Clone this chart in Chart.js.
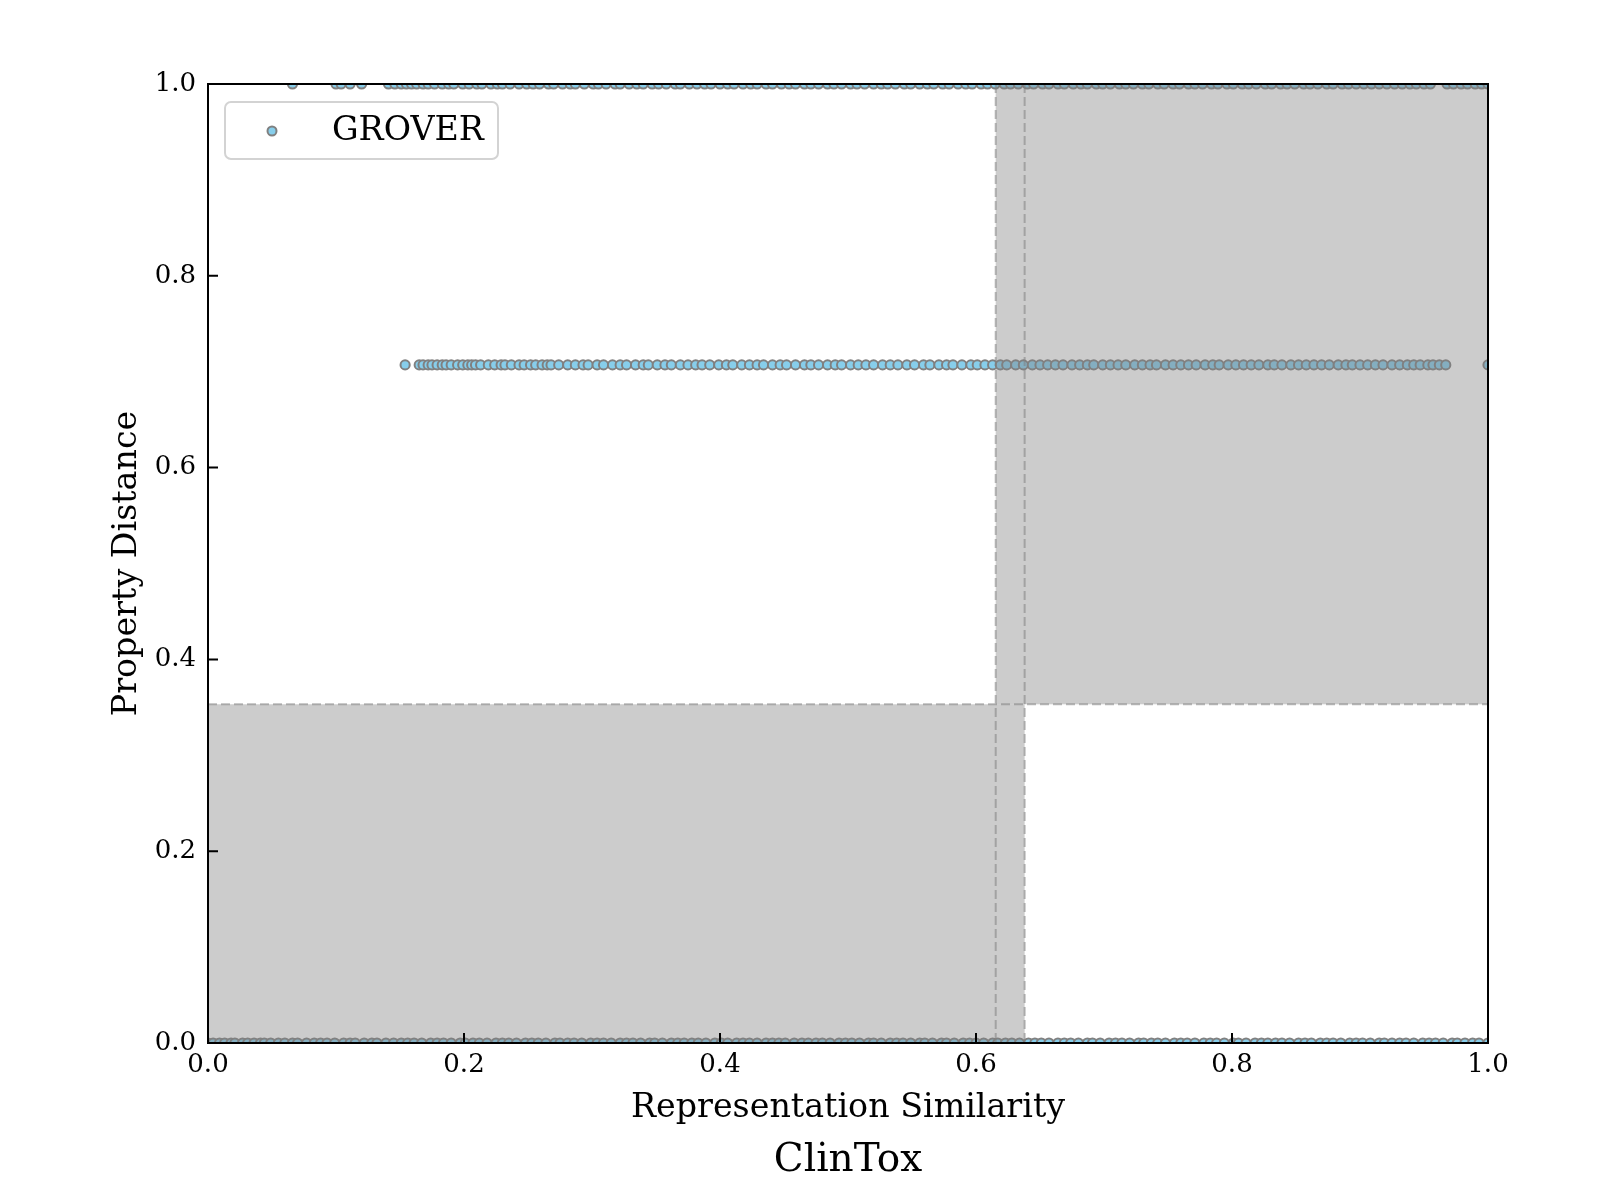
<!DOCTYPE html>
<html>
<head>
<meta charset="utf-8">
<script src="https://cdn.jsdelivr.net/npm/chart.js@4.4.1/dist/chart.umd.min.js"></script>
<style>
  html, body { margin: 0; padding: 0; background: #ffffff; }
  #wrap { width: 1600px; height: 1200px; position: relative; }
</style>
</head>
<body>
<div id="wrap"><canvas id="chart"></canvas></div>
<script>
// values
const seriesName = 'GROVER';
const chartTitle = 'ClinTox';
const xTitle = 'Representation Similarity';
const yTitle = 'Property Distance';
const tickValues = [0.0, 0.2, 0.4, 0.6, 0.8, 1.0];
const tickLabels = ['0.0', '0.2', '0.4', '0.6', '0.8', '1.0'];

// property distance levels where the points sit
const levelTop = 1.0;
const levelMid = 0.7071;
const levelLow = 0.0;

// representation similarity of the points on each level
const simAtTop = [0.066, 0.100, 0.104, 0.111, 0.120, 0.141, 0.146, 0.151, 0.155, 0.159, 0.163, 0.168, 0.172, 0.177,
  0.183, 0.188, 0.192, 0.199, 0.204, 0.210, 0.214, 0.221, 0.226, 0.230, 0.236, 0.243, 0.249, 0.254, 0.259, 0.266,
  0.270, 0.277, 0.283, 0.287, 0.294, 0.301, 0.305, 0.311, 0.318, 0.322, 0.329, 0.335, 0.340, 0.347, 0.352, 0.358,
  0.365, 0.369, 0.376, 0.382, 0.388, 0.393, 0.400, 0.406, 0.411, 0.418, 0.424, 0.429, 0.436, 0.441, 0.448, 0.454,
  0.459, 0.466, 0.471, 0.477, 0.484, 0.489, 0.495, 0.502, 0.507, 0.513, 0.520, 0.526, 0.531, 0.537, 0.544, 0.549,
  0.556, 0.562, 0.567, 0.574, 0.579, 0.586, 0.592, 0.597, 0.604, 0.609, 0.615, 0.622, 0.627, 0.633, 0.640, 0.645,
  0.652, 0.657, 0.664, 0.669, 0.676, 0.682, 0.687, 0.694, 0.699, 0.705, 0.712, 0.717, 0.723, 0.730, 0.735, 0.742,
  0.747, 0.754, 0.759, 0.766, 0.771, 0.777, 0.784, 0.789, 0.796, 0.801, 0.808, 0.813, 0.819, 0.826, 0.831, 0.838,
  0.843, 0.849, 0.856, 0.861, 0.867, 0.874, 0.879, 0.886, 0.891, 0.897, 0.903, 0.909, 0.915, 0.921, 0.927, 0.933,
  0.939, 0.944, 0.950, 0.955, 0.968, 0.973, 0.979, 0.984, 0.990, 0.995, 1.000];

const simAtMid = [0.154, 0.165, 0.168, 0.172, 0.175, 0.179, 0.183, 0.186, 0.190, 0.195, 0.199, 0.203, 0.206, 0.209,
  0.213, 0.219, 0.224, 0.229, 0.232, 0.237, 0.243, 0.247, 0.252, 0.256, 0.261, 0.265, 0.268, 0.274, 0.281, 0.287,
  0.293, 0.297, 0.304, 0.309, 0.316, 0.322, 0.327, 0.334, 0.340, 0.344, 0.351, 0.357, 0.362, 0.369, 0.375, 0.381,
  0.386, 0.392, 0.399, 0.405, 0.410, 0.417, 0.423, 0.429, 0.434, 0.441, 0.447, 0.452, 0.459, 0.466, 0.471, 0.477,
  0.484, 0.490, 0.495, 0.502, 0.508, 0.514, 0.520, 0.527, 0.533, 0.539, 0.546, 0.552, 0.559, 0.564, 0.571, 0.577,
  0.582, 0.589, 0.596, 0.601, 0.607, 0.613, 0.619, 0.624, 0.631, 0.637, 0.644, 0.650, 0.656, 0.662, 0.668, 0.675,
  0.681, 0.687, 0.692, 0.699, 0.705, 0.711, 0.717, 0.724, 0.730, 0.736, 0.741, 0.748, 0.754, 0.760, 0.766, 0.772,
  0.779, 0.785, 0.790, 0.797, 0.803, 0.809, 0.815, 0.821, 0.828, 0.833, 0.839, 0.846, 0.852, 0.858, 0.864, 0.870,
  0.876, 0.883, 0.889, 0.894, 0.900, 0.906, 0.912, 0.918, 0.925, 0.931, 0.937, 0.942, 0.947, 0.953, 0.957, 0.962,
  0.967, 1.000];

const simAtLow = [0.000, 0.004, 0.009, 0.013, 0.018, 0.021, 0.027, 0.031, 0.036, 0.041, 0.044, 0.049, 0.055, 0.060,
  0.066, 0.070, 0.077, 0.083, 0.088, 0.093, 0.099, 0.106, 0.111, 0.115, 0.122, 0.128, 0.132, 0.139, 0.145, 0.151,
  0.156, 0.161, 0.167, 0.174, 0.179, 0.184, 0.190, 0.197, 0.201, 0.207, 0.212, 0.218, 0.225, 0.230, 0.235, 0.241,
  0.248, 0.253, 0.258, 0.264, 0.271, 0.275, 0.281, 0.286, 0.292, 0.299, 0.304, 0.309, 0.315, 0.322, 0.327, 0.332,
  0.338, 0.345, 0.349, 0.355, 0.362, 0.367, 0.372, 0.378, 0.383, 0.389, 0.396, 0.401, 0.406, 0.413, 0.418, 0.423,
  0.429, 0.436, 0.441, 0.446, 0.451, 0.458, 0.464, 0.469, 0.475, 0.480, 0.486, 0.493, 0.498, 0.503, 0.509, 0.516,
  0.520, 0.526, 0.533, 0.538, 0.543, 0.549, 0.556, 0.560, 0.566, 0.573, 0.577, 0.583, 0.590, 0.595, 0.600, 0.606,
  0.613, 0.617, 0.623, 0.628, 0.634, 0.641, 0.646, 0.651, 0.657, 0.664, 0.669, 0.674, 0.680, 0.687, 0.691, 0.697,
  0.704, 0.709, 0.714, 0.720, 0.727, 0.731, 0.737, 0.742, 0.748, 0.755, 0.760, 0.765, 0.771, 0.778, 0.783, 0.788,
  0.794, 0.801, 0.805, 0.811, 0.818, 0.823, 0.828, 0.834, 0.839, 0.845, 0.852, 0.857, 0.862, 0.869, 0.874, 0.879,
  0.885, 0.892, 0.897, 0.902, 0.908, 0.915, 0.919, 0.925, 0.931, 0.936, 0.942, 0.949, 0.954, 0.959, 0.965, 0.972,
  0.976, 0.982, 0.988, 0.993, 1.000];

// shaded zones: similarity thresholds and the property-distance threshold
const simLow = 0.6154;
const simHigh = 0.638;
const propThreshold = 0.3532;

const FONT = "'DejaVu Serif', 'Liberation Serif', serif";
const pointFill = '#87ceeb';
const pointEdge = '#808080';

const toPoints = (xs, level) => xs.map(x => ({ x: x, y: level }));
const allPoints = [].concat(toPoints(simAtTop, levelTop), toPoints(simAtMid, levelMid), toPoints(simAtLow, levelLow));

// shaded boxes, dashed guides, spines, inward ticks and the framed legend
const overlayPlugin = {
  id: 'overlay',
  afterDatasetsDraw(chart) {
    const ctx = chart.ctx;
    const xs = chart.scales.x, ys = chart.scales.y;
    const { left, right, top, bottom } = chart.chartArea;
    ctx.save();

    // shaded zones, drawn over the points
    ctx.fillStyle = 'rgba(128,128,128,0.4)';
    const bx0 = xs.getPixelForValue(0), bx1 = xs.getPixelForValue(simHigh);
    const by0 = ys.getPixelForValue(propThreshold), by1 = ys.getPixelForValue(0);
    ctx.fillRect(bx0, by0, bx1 - bx0, by1 - by0);
    const tx0 = xs.getPixelForValue(simLow), tx1 = xs.getPixelForValue(1);
    const ty0 = ys.getPixelForValue(1), ty1 = ys.getPixelForValue(propThreshold);
    ctx.fillRect(tx0, ty0, tx1 - tx0, ty1 - ty0);

    // dashed threshold lines
    ctx.strokeStyle = 'rgba(128,128,128,0.55)';
    ctx.lineWidth = 2;
    ctx.setLineDash([9, 4]);
    ctx.beginPath();
    [simLow, simHigh].forEach(v => {
      const px = xs.getPixelForValue(v);
      ctx.moveTo(px, top); ctx.lineTo(px, bottom);
    });
    const py = ys.getPixelForValue(propThreshold);
    ctx.moveTo(left, py); ctx.lineTo(right, py);
    ctx.stroke();
    ctx.setLineDash([]);

    // spines
    ctx.strokeStyle = '#000000';
    ctx.lineWidth = 2;
    ctx.strokeRect(left, top, right - left, bottom - top);

    // inward ticks on bottom and left
    ctx.beginPath();
    tickValues.forEach(v => {
      const px = xs.getPixelForValue(v);
      ctx.moveTo(px, bottom); ctx.lineTo(px, bottom - 10);
      const pyy = ys.getPixelForValue(v);
      ctx.moveTo(left, pyy); ctx.lineTo(left + 10, pyy);
    });
    ctx.stroke();

    // legend
    const lx = left + 17, ly = top + 18, lw = 273, lh = 57;
    ctx.fillStyle = 'rgba(255,255,255,0.8)';
    ctx.strokeStyle = '#d3d3d3';
    ctx.lineWidth = 2;
    ctx.beginPath();
    ctx.roundRect(lx, ly, lw, lh, 6);
    ctx.fill();
    ctx.stroke();
    ctx.beginPath();
    ctx.arc(lx + 47, ly + 29, 4.5, 0, Math.PI * 2);
    ctx.fillStyle = pointFill;
    ctx.fill();
    ctx.strokeStyle = pointEdge;
    ctx.lineWidth = 2;
    ctx.stroke();
    ctx.fillStyle = '#000000';
    ctx.font = '33.3px ' + FONT;
    ctx.textAlign = 'left';
    ctx.textBaseline = 'alphabetic';
    ctx.fillText(chart.data.datasets[0].label, lx + 107, ly + 38);

    ctx.restore();
  }
};

new Chart(document.getElementById('chart'), {
  type: 'scatter',
  data: {
    datasets: [{
      label: seriesName,
      data: allPoints,
      backgroundColor: pointFill,
      borderColor: pointEdge,
      borderWidth: 2,
      pointRadius: 4.6,
      pointHoverRadius: 4.6,
      clip: { left: 0, top: 0, right: 0, bottom: 0 }
    }]
  },
  options: {
    responsive: true,
    maintainAspectRatio: false,
    devicePixelRatio: 1,
    animation: false,
    events: [],
    layout: { padding: { left: 0, right: 112, top: 84, bottom: 0 } },
    plugins: {
      legend: { display: false },
      tooltip: { enabled: false },
      title: {
        display: true,
        fullSize: false,
        position: 'bottom',
        text: chartTitle,
        color: '#000000',
        font: { family: FONT, size: 39, weight: 'normal' },
        padding: { top: 0, bottom: 15.6 }
      }
    },
    scales: {
      x: {
        type: 'linear',
        min: 0, max: 1,
        grid: { display: false, drawTicks: false },
        border: { display: false },
        afterBuildTicks: s => { s.ticks = tickValues.map(v => ({ value: v })); },
        afterFit: s => { s.height = 94.6; },
        ticks: {
          color: '#000000',
          padding: 7,
          maxRotation: 0,
          font: { family: FONT, size: 26 },
          callback: (v) => tickLabels[tickValues.indexOf(v)] ?? ''
        },
        title: {
          display: true,
          text: xTitle,
          color: '#000000',
          font: { family: FONT, size: 33.3 },
          padding: { top: 0, bottom: 9.1 }
        }
      },
      y: {
        type: 'linear',
        min: 0, max: 1,
        grid: { display: false, drawTicks: false },
        border: { display: false },
        afterBuildTicks: s => { s.ticks = tickValues.map(v => ({ value: v })); },
        afterFit: s => { s.width = 208; },
        ticks: {
          color: '#000000',
          padding: 12,
          font: { family: FONT, size: 26 },
          callback: (v) => tickLabels[tickValues.indexOf(v)] ?? ''
        },
        title: {
          display: true,
          text: yTitle,
          color: '#000000',
          font: { family: FONT, size: 33.3 },
          padding: { top: 107.5, bottom: 0 }
        }
      }
    }
  },
  plugins: [overlayPlugin]
});
</script>
</body>
</html>
